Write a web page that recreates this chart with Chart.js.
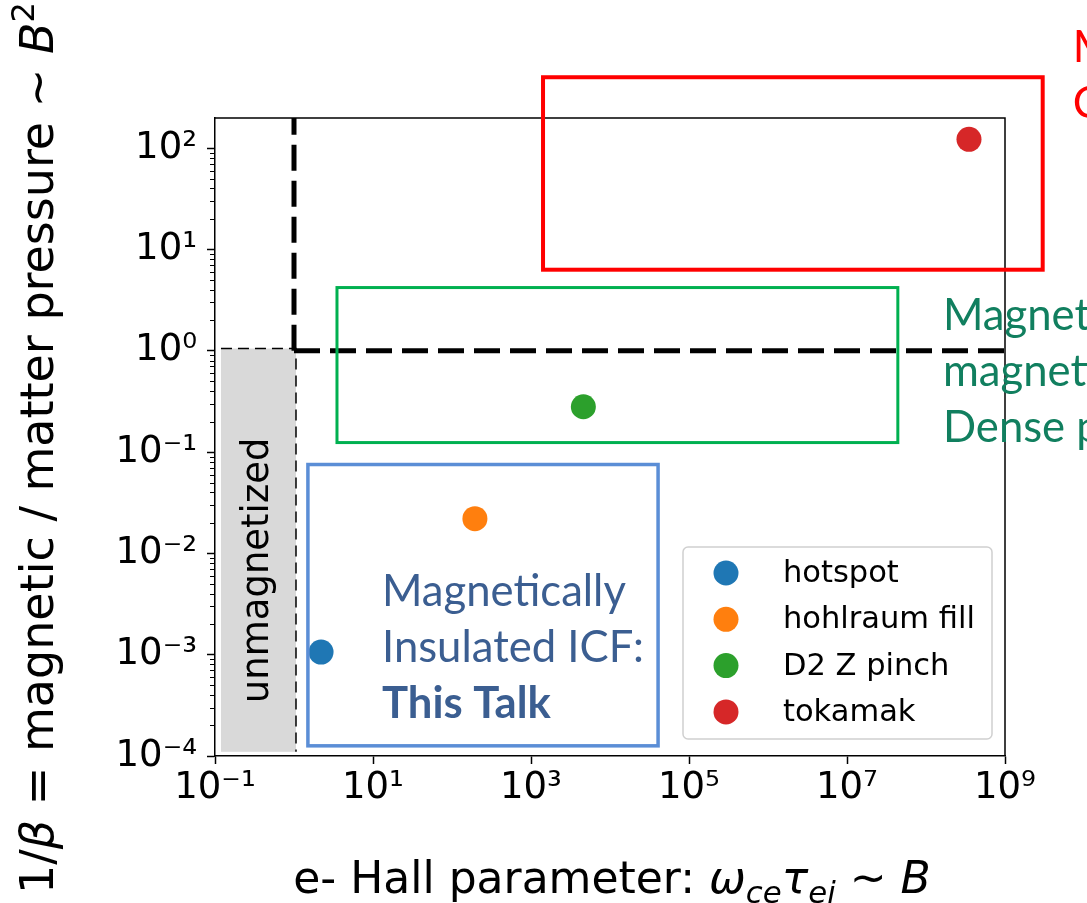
<!DOCTYPE html>
<html>
<head>
<meta charset="utf-8">
<script src="https://cdn.jsdelivr.net/npm/chart.js@4.4.1/dist/chart.umd.min.js"></script>
<style>
  html, body { margin: 0; padding: 0; background: #ffffff; }
  #wrap { width: 1087px; height: 903px; position: relative; overflow: hidden; }
  canvas { display: block; }
</style>
</head>
<body>
<div id="wrap"><canvas id="chart" width="1087" height="903"></canvas></div>
<script>
// ---------------- data ----------------
const seriesNames   = ['hotspot', 'hohlraum fill', 'D2 Z pinch', 'tokamak'];
const hallParameter = [2.2, 195, 4600, 3.5e8];          // x: e- Hall parameter
const inverseBeta   = [1.06e-3, 0.022, 0.28, 122];      // y: 1/beta
const seriesColors  = ['#1f77b4', '#ff7f0e', '#2ca02c', '#d62728'];

const xTickValues = [1e-1, 1e1, 1e3, 1e5, 1e7, 1e9];
const xTickLabels = ['10⁻¹', '10¹', '10³', '10⁵', '10⁷', '10⁹'];
const yTickValues = [1e-4, 1e-3, 1e-2, 1e-1, 1e0, 1e1, 1e2];
const yTickLabels = ['10⁻⁴', '10⁻³', '10⁻²', '10⁻¹', '10⁰', '10¹', '10²'];
const xRange = [1e-1, 1e9];
const yRange = [1e-4, 198];

const magnetizationThreshold = 1;  // Hall parameter = 1 and 1/beta = 1
// regions as [xmin, xmax, ymin, ymax] in data units
const unmagnetizedRegion = [0.119, 1.06, 1.1e-4, 1.05];
const mcfRegion          = [1420, 3.0e9, 6.3, 500];
const densePlasmaRegion  = [3.5, 4.4e7, 0.124, 4.2];
const icfRegion          = [1.5, 4.06e4, 1.26e-4, 0.0753];

// annotation texts and their data anchors (first baseline, left)
const icfLines   = ['Magnetically', 'Insulated ICF:', 'This Talk'];
const icfAnchor  = [13, 3.0e-3];
const denseLines = ['Magnetized Liner', 'magnetized plasmas', 'Dense plasma'];
const denseAnchor = [1.64e8, 1.61];
const mcfLines   = ['Magnetic', 'Confinement'];
const mcfAnchor  = [7.2e9, 703];
const unmagLabel = 'unmagnetized';
const unmagAnchor = [0.35, 6.8e-3];

const xTitleRuns = [
  {t: 'e- Hall parameter: '}, {t: 'ω', it: true}, {t: 'ce', it: true, sub: true},
  {t: 'τ', it: true}, {t: 'ei', it: true, sub: true}, {t: ' ~ '}, {t: 'B', it: true}
];
const yTitleRuns = [
  {t: '1/'}, {t: 'β', it: true}, {t: ' = magnetic / matter pressure ~ '},
  {t: 'B', it: true}, {t: '2', sup: true}
];

// ---------------- helpers ----------------
const MPL = '"DejaVu Sans", sans-serif';
const SLIDE = 'Lato, "Open Sans", sans-serif';

function runFont(r, size) {
  const s = (r.sub || r.sup) ? size * 0.7 : size;
  return `${r.it ? 'italic ' : ''}${s}px ${MPL}`;
}
function drawRuns(ctx, runs, size, cx, by) {
  let total = 0;
  const widths = runs.map(r => {
    ctx.font = runFont(r, size);
    const w = ctx.measureText(r.t).width;
    total += w;
    return w;
  });
  let x = cx - total / 2;
  ctx.textAlign = 'left';
  ctx.textBaseline = 'alphabetic';
  runs.forEach((r, i) => {
    ctx.font = runFont(r, size);
    const dy = r.sub ? size * 0.22 : (r.sup ? -size * 0.42 : 0);
    ctx.fillText(r.t, x, by + dy);
    x += widths[i];
  });
}
function rectPx(chart, reg) {
  const {x, y} = chart.scales;
  const x0 = x.getPixelForValue(reg[0]), x1 = x.getPixelForValue(reg[1]);
  const y0 = y.getPixelForValue(reg[3]), y1 = y.getPixelForValue(reg[2]);
  return [x0, y0, x1 - x0, y1 - y0];
}
function slideFontSize(ctx) {
  ctx.font = `40px ${SLIDE}`;
  const w = ctx.measureText(icfLines[0]).width;
  return 40 * 244 / w;
}
function drawLines(chart, lines, anchor, color, size, boldLast) {
  const {ctx, scales: {x, y}} = chart;
  const px = x.getPixelForValue(anchor[0]);
  const py = y.getPixelForValue(anchor[1]);
  ctx.save();
  ctx.fillStyle = color;
  ctx.textAlign = 'left';
  ctx.textBaseline = 'alphabetic';
  lines.forEach((ln, i) => {
    const bold = boldLast && i === lines.length - 1;
    ctx.font = `${bold ? 'bold ' : ''}${size}px ${SLIDE}`;
    ctx.fillText(ln, px, py + i * 56);
  });
  ctx.restore();
}

// ---------------- plugin ----------------
const slidePlugin = {
  id: 'slideAnnotations',
  beforeDatasetsDraw(chart) {
    const {ctx, chartArea: ca, scales: {x, y}} = chart;
    ctx.save();
    // unmagnetized region
    const g = rectPx(chart, unmagnetizedRegion);
    ctx.fillStyle = '#d9d9d9';
    ctx.fillRect(g[0], g[1], g[2], g[3]);
    ctx.strokeStyle = '#000';
    ctx.lineWidth = 1.5;
    ctx.setLineDash([11, 6]);
    ctx.beginPath();
    ctx.moveTo(g[0], g[1]); ctx.lineTo(g[0] + g[2], g[1]); ctx.lineTo(g[0] + g[2], g[1] + g[3]);
    ctx.stroke();

    // thick dashed thresholds
    const tx = x.getPixelForValue(magnetizationThreshold);
    const ty = y.getPixelForValue(magnetizationThreshold);
    ctx.lineWidth = 5;
    ctx.setLineDash([26, 10]);
    ctx.beginPath();
    ctx.moveTo(tx, ty); ctx.lineTo(tx, ca.top);
    ctx.stroke();
    ctx.beginPath();
    ctx.moveTo(tx, ty); ctx.lineTo(ca.right, ty);
    ctx.stroke();
    ctx.setLineDash([]);

    // unmagnetized label
    ctx.fillStyle = '#000';
    ctx.font = `37px ${MPL}`;
    ctx.textAlign = 'center';
    ctx.textBaseline = 'middle';
    ctx.translate(x.getPixelForValue(unmagAnchor[0]), y.getPixelForValue(unmagAnchor[1]));
    ctx.rotate(-Math.PI / 2);
    ctx.fillText(unmagLabel, 0, 0);
    ctx.restore();

    // top and right spines + minor ticks
    ctx.save();
    ctx.strokeStyle = '#000';
    ctx.lineWidth = 1.5;
    ctx.beginPath();
    ctx.moveTo(ca.left, ca.top); ctx.lineTo(ca.right, ca.top); ctx.lineTo(ca.right, ca.bottom);
    ctx.stroke();
    ctx.lineWidth = 1;
    ctx.beginPath();
    for (let n = -4; n <= 2; n++) {
      for (let k = 2; k <= 9; k++) {
        const v = k * Math.pow(10, n);
        if (v < yRange[0] || v > yRange[1]) continue;
        const py = Math.round(y.getPixelForValue(v)) + 0.5;
        ctx.moveTo(ca.left - 5, py); ctx.lineTo(ca.left, py);
      }
    }
    ctx.stroke();
    ctx.restore();
  },
  afterDatasetsDraw(chart) {
    const {ctx, chartArea: ca} = chart;
    ctx.save();
    // region boxes
    const boxes = [[mcfRegion, '#ff0000', 4], [densePlasmaRegion, '#00b050', 3], [icfRegion, '#5b8ed6', 3.5]];
    boxes.forEach(([reg, col, lw]) => {
      const r = rectPx(chart, reg);
      ctx.strokeStyle = col;
      ctx.lineWidth = lw;
      ctx.strokeRect(r[0], r[1], r[2], r[3]);
    });
    ctx.restore();

    const fs = slideFontSize(ctx);
    drawLines(chart, icfLines, icfAnchor, '#3b5e91', fs, true);
    drawLines(chart, denseLines, denseAnchor, '#117f5f', fs, false);
    drawLines(chart, mcfLines, mcfAnchor, '#ff0000', fs, false);

    // legend (matplotlib style, lower right inside the axes)
    ctx.save();
    const lx0 = ca.right - 322, ly0 = ca.bottom - 209, lw = 309, lh = 192;
    ctx.fillStyle = 'rgba(255,255,255,0.85)';
    ctx.strokeStyle = '#d0d0d0';
    ctx.lineWidth = 1.5;
    ctx.beginPath();
    ctx.roundRect(lx0, ly0, lw, lh, 5);
    ctx.fill();
    ctx.stroke();
    chart.data.datasets.forEach((ds, i) => {
      const cy = ly0 + 26 + i * 46.3;
      ctx.fillStyle = ds.backgroundColor;
      ctx.beginPath();
      ctx.arc(lx0 + 43, cy, 12.5, 0, Math.PI * 2);
      ctx.fill();
      ctx.fillStyle = '#000';
      ctx.font = `30.5px ${MPL}`;
      ctx.textAlign = 'left';
      ctx.textBaseline = 'middle';
      ctx.fillText(ds.label, lx0 + 100, cy + 1);
    });
    ctx.restore();

    // axis titles
    ctx.save();
    ctx.fillStyle = '#000';
    drawRuns(ctx, xTitleRuns, 44, (ca.left + ca.right) / 2 + 2, ca.bottom + 137);
    ctx.translate(53, (ca.top + ca.bottom) / 2 + 11);
    ctx.rotate(-Math.PI / 2);
    drawRuns(ctx, yTitleRuns, 46, 0, 0);
    ctx.restore();
  }
};

// ---------------- chart ----------------
const datasets = seriesNames.map((name, i) => ({
  label: name,
  data: [{x: hallParameter[i], y: inverseBeta[i]}],
  backgroundColor: seriesColors[i],
  borderWidth: 0,
  pointRadius: 12.5,
  pointHoverRadius: 12.5
}));

new Chart(document.getElementById('chart'), {
  type: 'scatter',
  data: {datasets},
  options: {
    responsive: false,
    animation: false,
    events: [],
    layout: {padding: {left: 0, right: 82, top: 118, bottom: 0}},
    plugins: {legend: {display: false}, tooltip: {enabled: false}, title: {display: false}},
    scales: {
      x: {
        type: 'logarithmic',
        min: xRange[0], max: xRange[1],
        afterBuildTicks: s => { s.ticks = xTickValues.map(v => ({value: v})); },
        afterFit: s => { s.height = 147; },
        ticks: {
          autoSkip: false, maxRotation: 0, padding: 2, color: '#000',
          font: {family: 'DejaVu Sans', size: 37},
          callback: (v, i) => xTickLabels[i]
        },
        grid: {drawOnChartArea: false, drawTicks: true, tickLength: 8, tickWidth: 1.5, tickColor: '#000'},
        border: {display: true, color: '#000', width: 1.5}
      },
      y: {
        type: 'logarithmic',
        min: yRange[0], max: yRange[1],
        afterBuildTicks: s => { s.ticks = yTickValues.map(v => ({value: v})); },
        afterFit: s => { s.width = 215; },
        ticks: {
          autoSkip: false, padding: 10, color: '#000',
          font: {family: 'DejaVu Sans', size: 37},
          callback: (v, i) => yTickLabels[i]
        },
        grid: {drawOnChartArea: false, drawTicks: true, tickLength: 8, tickWidth: 1.5, tickColor: '#000'},
        border: {display: true, color: '#000', width: 1.5}
      }
    }
  },
  plugins: [slidePlugin]
});
</script>
</body>
</html>
